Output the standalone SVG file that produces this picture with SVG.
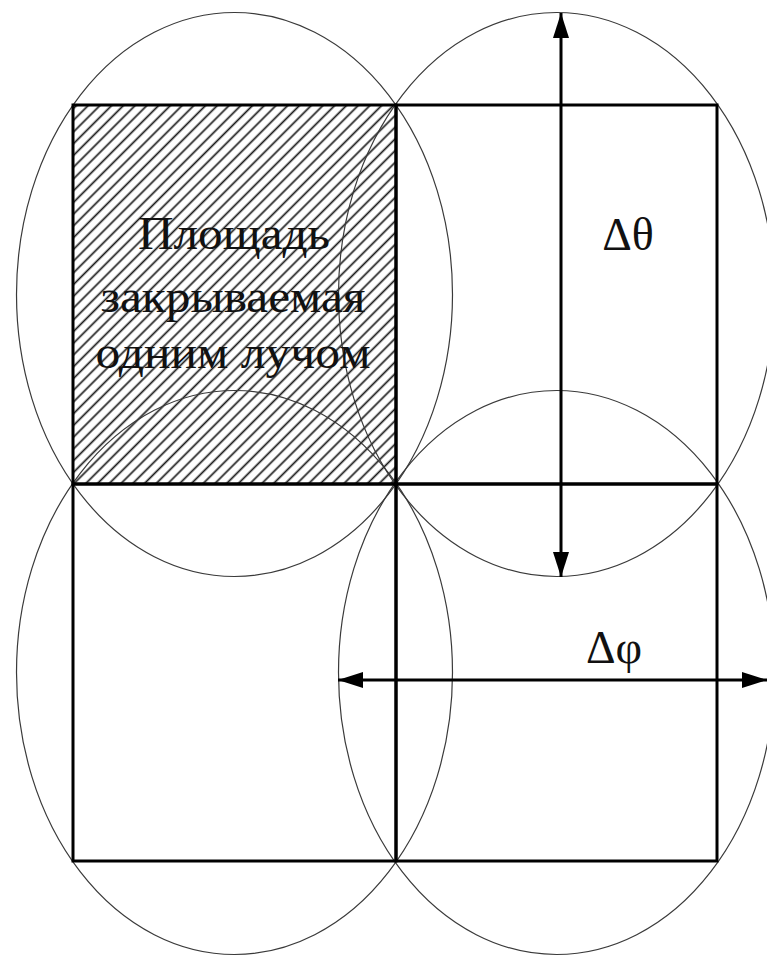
<svg xmlns="http://www.w3.org/2000/svg" width="767" height="957" viewBox="0 0 767 957">
  <style>
    .ell { fill: none; stroke: #3a3a3a; stroke-width: 1.2; }
    .sq { fill: none; stroke: #000; stroke-width: 3; }
    .arr { stroke: #000; stroke-width: 3; fill: none; }
    .lbl { font-family: "Liberation Serif", "Times New Roman", serif; font-size: 46px; fill: #111; text-anchor: middle; }
  </style>
  <defs>
    <pattern id="hatch" patternUnits="userSpaceOnUse" width="8.3" height="8.3" patternTransform="rotate(45)">
      <line x1="4.15" y1="-1" x2="4.15" y2="9.5" stroke="#1a1a1a" stroke-width="1.7"/>
    </pattern>
    <marker id="ah" viewBox="0 0 25 16" markerWidth="25" markerHeight="16" refX="25" refY="8" orient="auto-start-reverse" markerUnits="userSpaceOnUse">
      <path d="M0,0 L25,8 L0,16 z" fill="#000"/>
    </marker>
  </defs>
  <rect width="767" height="957" fill="#fff"/>

  <g id="hatched-area">
    <rect x="73" y="105" width="323" height="379" fill="url(#hatch)"/>
  </g>

  <g id="beam-ellipses">
    <ellipse id="beam-tl" class="ell" cx="234.5" cy="294.5" rx="218" ry="282"/>
    <ellipse id="beam-tr" class="ell" cx="556.5" cy="294.5" rx="218" ry="282"/>
    <ellipse id="beam-bl" class="ell" cx="234.5" cy="672.5" rx="218" ry="282"/>
    <ellipse id="beam-br" class="ell" cx="556.5" cy="672.5" rx="218" ry="282"/>
  </g>

  <g id="cells">
    <rect id="cell-tl" class="sq" x="73" y="105" width="323" height="379"/>
    <rect id="cell-tr" class="sq" x="396" y="105" width="321" height="379"/>
    <rect id="cell-bl" class="sq" x="73" y="484" width="323" height="377"/>
    <rect id="cell-br" class="sq" x="396" y="484" width="321" height="377"/>
  </g>

  <g id="connectors">
    <line class="arr" x1="561" y1="13" x2="561" y2="577" marker-start="url(#ah)" marker-end="url(#ah)"/>
    <line class="arr" x1="338" y1="680" x2="767" y2="680" marker-start="url(#ah)" marker-end="url(#ah)"/>
  </g>

  <g id="label-area">
    <text class="lbl" x="234" y="249" textLength="192" lengthAdjust="spacingAndGlyphs">Площадь</text>
    <text class="lbl" x="233" y="312" textLength="265" lengthAdjust="spacingAndGlyphs">закрываемая</text>
    <text class="lbl" x="233" y="368" textLength="275" lengthAdjust="spacingAndGlyphs">одним лучом</text>
  </g>
  <g id="label-theta">
    <text class="lbl" x="628" y="250">Δθ</text>
  </g>
  <g id="label-phi">
    <text class="lbl" x="614" y="663">Δφ</text>
  </g>
</svg>
